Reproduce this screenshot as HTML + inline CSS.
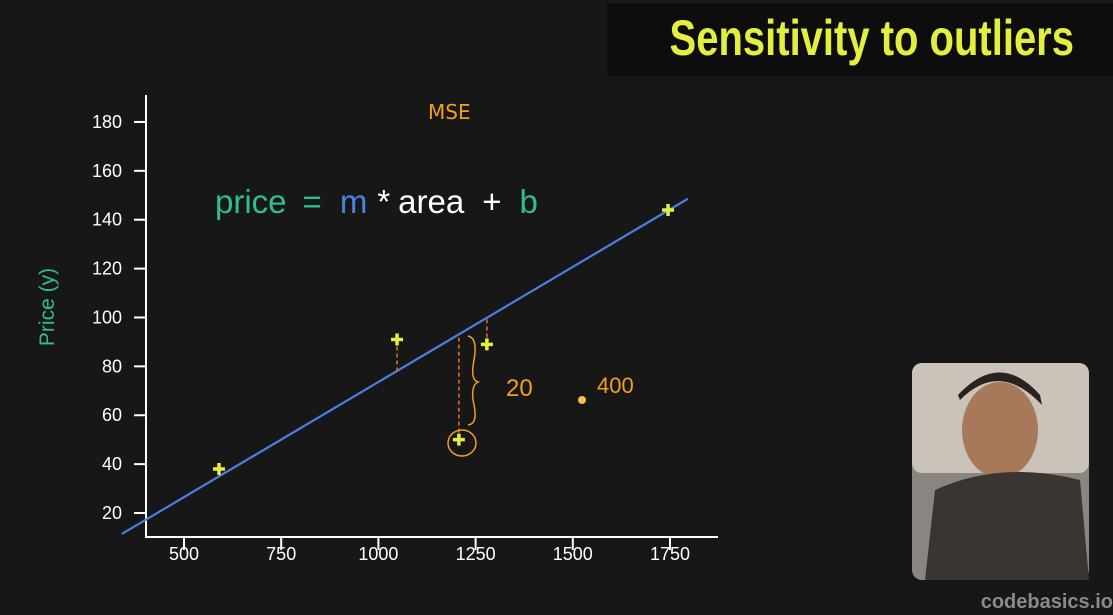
<!DOCTYPE html>
<html><head><meta charset="utf-8"><style>
body{margin:0;width:1113px;height:610px;background:#171717;overflow:hidden;font-family:"Liberation Sans",sans-serif;}
</style></head><body>
<svg width="1113" height="610" xmlns="http://www.w3.org/2000/svg">
<rect x="607" y="3" width="506" height="73" fill="#0d0d0d"/>
<text transform="translate(1074,55) scale(0.8,1)" text-anchor="end" fill="#e3ee3e" font-family="Liberation Sans Narrow, Liberation Sans, sans-serif" font-weight="bold" font-size="50">Sensitivity to outliers</text>
<g id="axes" stroke="#fff" stroke-width="2"></g>
<g id="labels" fill="#fff" font-size="18"></g>
<text transform="translate(54,307) rotate(-90)" text-anchor="middle" fill="#2fbf8f" font-size="21">Price (y)</text>
<text x="215" y="213" font-size="33"><tspan fill="#2fbf8f">price</tspan><tspan fill="#2fbf8f" dx="16">=</tspan><tspan fill="#4a82e0" dx="18">m</tspan><tspan fill="#fff" dx="10">*</tspan><tspan fill="#fff" dx="8">area</tspan><tspan fill="#fff" dx="18">+</tspan><tspan fill="#2fbf8f" dx="18">b</tspan></text>
<g id="plot"></g>
<text x="428" y="119" fill="#f0a020" font-size="20" font-family="DejaVu Sans, sans-serif">MSE</text>
<text x="506" y="396" fill="#f0a020" font-size="24">20</text>
<text x="597" y="393" fill="#f0a020" font-size="22">400</text>
<g>
<rect x="912" y="363" width="177" height="217" rx="10" fill="#8a8580"/>
<rect x="912" y="363" width="177" height="110" rx="10" fill="#c9c3ba"/>
<ellipse cx="1000" cy="430" rx="38" ry="48" fill="#a8785a"/>
<path d="M960 400 Q1000 360 1042 405 L1040 395 Q1000 350 958 395Z" fill="#2a2220"/>
<path d="M925 580 L935 490 Q1000 460 1080 480 L1089 580Z" fill="#3a3530"/>
</g>
<text x="1113" y="608" text-anchor="end" fill="#8a8a8a" font-size="20" font-weight="bold">codebasics.io</text>
</svg>
<script>
const xTicks=[500,750,1000,1250,1500,1750];
const yTicks=[20,40,60,80,100,120,140,160,180];
const areas=[590,1048,1207,1279,1745];
const prices=[38,91,50,89,144];
const slope=0.0942, intercept=-20.6;
const lineRange=[340,1796];
const X=v=>184+(v-500)*0.3888, Y=v=>513-(v-20)*2.444;
const NS='http://www.w3.org/2000/svg';
function mk(t,a,p){const e=document.createElementNS(NS,t);for(const k in a)e.setAttribute(k,a[k]);p.appendChild(e);return e;}
const ax=document.getElementById('axes'),lb=document.getElementById('labels'),pl=document.getElementById('plot');
let e=mk('line',{x1:146,y1:95,x2:146,y2:538},ax);


e=mk('line',{x1:145,y1:537,x2:718,y2:537},ax);


yTicks.forEach(v=>{const y=Y(v);
 e=mk('line',{x1:134,y1:y,x2:146,y2:y},ax);
 
 
 e=mk('text',{x:122,y:y+6,'text-anchor':'end'},lb);e.textContent=v;
 
 });
xTicks.forEach(v=>{const x=X(v);
 e=mk('line',{x1:x,y1:537,x2:x,y2:550},ax);
 
 
 e=mk('text',{x:x,y:560,'text-anchor':'middle'},lb);e.textContent=v;
 
 });
e=mk('line',{x1:X(lineRange[0]),y1:Y(slope*lineRange[0]+intercept),x2:X(lineRange[1]),y2:Y(slope*lineRange[1]+intercept),stroke:'#4a7fe0','stroke-width':2.2},pl);


areas.forEach((a,i)=>{const x=X(a),y=Y(prices[i]);
 if(i>=1&&i<=3){const yl=Y(slope*a+intercept);
  e=mk('line',{x1:x,y1:y,x2:x,y2:yl,stroke:'#e8702a','stroke-width':1.5,'stroke-dasharray':'4,3'},pl);
  
  }
 e=mk('path',{d:`M${x-6} ${y}H${x+6}M${x} ${y-6}V${y+6}`,stroke:'#e3ee3e','stroke-width':3.5},pl);
 
 });
e=mk('circle',{cx:582,cy:400,r:4,fill:'#f5c542'},pl);


e=mk('path',{d:'M468 336 Q478 338 474 360 Q470 380 478 382 Q470 386 474 405 Q478 424 468 425',fill:'none',stroke:'#f0a020','stroke-width':1.5},pl);


e=mk('ellipse',{cx:462,cy:443,rx:14,ry:13,fill:'none',stroke:'#f0a020','stroke-width':1.5},pl);


</script>
</body></html>
